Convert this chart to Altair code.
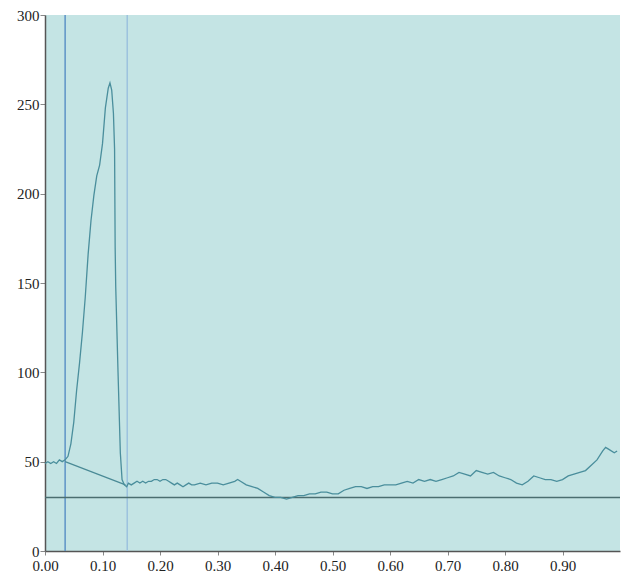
import altair as alt
import pandas as pd

# Signal trace (x in fraction, y value)
trace_x = [0.000, 0.005, 0.010, 0.015, 0.020, 0.025, 0.030, 0.035, 0.040, 0.045,
           0.050, 0.055, 0.060, 0.065, 0.070, 0.075, 0.080, 0.085, 0.090, 0.095,
           0.100, 0.105, 0.110, 0.113, 0.116, 0.119, 0.121, 0.122, 0.123, 0.127,
           0.131, 0.134, 0.138, 0.142, 0.145, 0.150, 0.155, 0.160, 0.165, 0.170,
           0.175, 0.180, 0.185, 0.190, 0.195, 0.200, 0.205, 0.210, 0.215, 0.220,
           0.225, 0.230, 0.235, 0.240, 0.245, 0.250, 0.255, 0.260, 0.270, 0.280,
           0.290, 0.300, 0.310, 0.320, 0.330, 0.335, 0.340, 0.350, 0.360, 0.370,
           0.380, 0.390, 0.400, 0.410, 0.420, 0.430, 0.440, 0.450, 0.460, 0.470,
           0.480, 0.490, 0.500, 0.510, 0.520, 0.530, 0.540, 0.550, 0.560, 0.570,
           0.580, 0.590, 0.600, 0.610, 0.620, 0.630, 0.640, 0.650, 0.660, 0.670,
           0.680, 0.690, 0.700, 0.710, 0.720, 0.730, 0.740, 0.750, 0.760, 0.770,
           0.780, 0.790, 0.800, 0.810, 0.820, 0.830, 0.840, 0.850, 0.860, 0.870,
           0.880, 0.890, 0.900, 0.910, 0.920, 0.930, 0.940, 0.950, 0.960, 0.970,
           0.975, 0.980, 0.990, 0.995]
trace_y = [49, 50, 49, 50, 49, 51, 50, 51, 53, 60,
           72, 90, 105, 122, 142, 166, 185, 199, 210, 216,
           228, 248, 259, 262, 258, 245, 225, 170, 148, 100,
           55, 40, 37, 36, 38, 37, 38, 39, 38, 39,
           38, 39, 39, 40, 40, 39, 40, 40, 39, 38,
           37, 38, 37, 36, 37, 38, 37, 37, 38, 37,
           38, 38, 37, 38, 39, 40, 39, 37, 36, 35,
           33, 31, 30, 30, 29, 30, 31, 31, 32, 32,
           33, 33, 32, 32, 34, 35, 36, 36, 35, 36,
           36, 37, 37, 37, 38, 39, 38, 40, 39, 40,
           39, 40, 41, 42, 44, 43, 42, 45, 44, 43,
           44, 42, 41, 40, 38, 37, 39, 42, 41, 40,
           40, 39, 40, 42, 43, 44, 45, 48, 51, 56,
           58, 57, 55, 56]

# Peak baseline segment
base_x = [0.035, 0.140]
base_y = [50, 37]

# Markers
vline_x = [0.035, 0.143]
vline_color = ["#5d93c6", "#9cc2de"]
hline_y = [30]

x_ticks = [0.0, 0.1, 0.2, 0.3, 0.4, 0.5, 0.6, 0.7, 0.8, 0.9]
y_ticks = [0, 50, 100, 150, 200, 250, 300]

df = pd.DataFrame({"x": trace_x, "y": trace_y})
dfb = pd.DataFrame({"x": base_x, "y": base_y})
dfv = pd.DataFrame({"x": vline_x, "c": vline_color})
dfh = pd.DataFrame({"y": hline_y})

xs = alt.Scale(domain=[0, 1.0], nice=False, zero=False)
ys = alt.Scale(domain=[0, 300], nice=False)

font = "Liberation Serif"
xaxis = alt.Axis(values=x_ticks, format=".2f", title=None, grid=False,
                 labelFont=font, labelFontSize=15, labelColor="#222",
                 labelFlush=False,
                 domainColor="#555", tickColor="#888", tickSize=4, labelPadding=3,
                 domainWidth=1.5)
yaxis = alt.Axis(values=y_ticks, title=None, grid=False,
                 labelFont=font, labelFontSize=15, labelColor="#222",
                 labelFlush=False,
                 domainColor="#555", tickColor="#888", tickSize=5, labelPadding=1,
                 domainWidth=1.5)

line = alt.Chart(df).mark_line(color="#4a8e9c", strokeWidth=1.3).encode(
    x=alt.X("x:Q", scale=xs, axis=xaxis),
    y=alt.Y("y:Q", scale=ys, axis=yaxis),
)
base = alt.Chart(dfb).mark_line(color="#4a8a96", strokeWidth=1.2).encode(
    x=alt.X("x:Q", scale=xs, axis=xaxis), y=alt.Y("y:Q", scale=ys, axis=yaxis))
vlines = alt.Chart(dfv).mark_rule(strokeWidth=1.5).encode(
    x=alt.X("x:Q", scale=xs, axis=xaxis), color=alt.Color("c:N", scale=None))
hline = alt.Chart(dfh).mark_rule(color="#4b6e70", strokeWidth=1.5).encode(
    y=alt.Y("y:Q", scale=ys, axis=yaxis))

chart = alt.layer(vlines, hline, base, line).properties(
    width=575, height=536,
    autosize=alt.AutoSizeParams(type="none"),
    padding={"left": 37, "top": 7, "right": 5, "bottom": 30},
).configure_view(fill="#c4e4e4", stroke=None).configure_axis(
    labelFont=font, labelFontSize=15
)

chart.save("out.html", embed_options={"renderer": "svg", "actions": False})
